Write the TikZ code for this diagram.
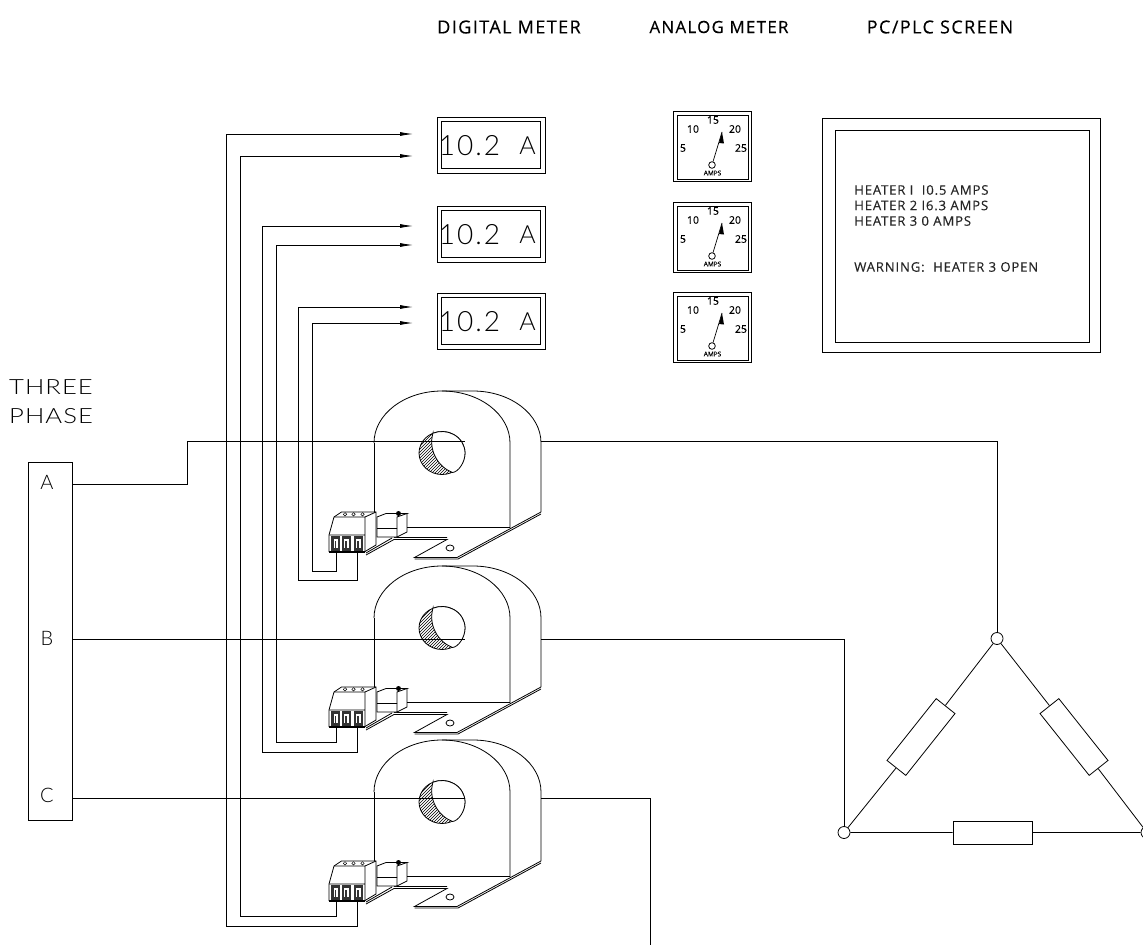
\documentclass[tikz,border=0pt]{standalone}
\usepackage{fontspec}
\setmainfont{Liberation Sans}
\newfontfamily\cad[LetterSpace=7]{Lato Light}
\newfontfamily\cadw[FakeStretch=1.22,LetterSpace=5]{Lato Light}
\newfontfamily\cadb[LetterSpace=8,FakeBold=0.3]{Open Sans}
\newfontfamily\cadc[LetterSpace=6,FakeBold=0.2]{Open Sans}
\newfontfamily\cadd[FakeBold=0.3]{Open Sans}
\usetikzlibrary{arrows.meta,patterns}
\tikzset{
 ln/.style={line width=0.8pt,black},
 wire/.style={line width=0.8pt,black},
 arr/.style={wire,-{Latex[length=13pt,width=4pt]}},
 thin text/.style={font=\cad,inner sep=0pt},
 toplabel/.style={font=\cadb\fontsize{18}{18}\selectfont,inner sep=0pt},
 scrn/.style={font=\cadc\fontsize{13.2}{13.2}\selectfont,inner sep=0pt,anchor=west,text=black!85},
 tick/.style={font=\cadd\fontsize{10.5}{10.5}\selectfont,inner sep=0pt},
 jn/.style={circle,draw,line width=0.8pt,fill=white,minimum size=12pt,inner sep=0pt},
}
% digital meter
\newcommand{\digi}[2]{%
 \node[draw,ln,minimum width=108pt,minimum height=56pt,inner sep=0pt] (#1) at (491,#2) {};
 \node[draw,ln,minimum width=99pt,minimum height=47pt,inner sep=0pt] (#1i) at (491,#2) {};
 \node[thin text,font=\cad\fontsize{28}{28}\selectfont] (#1n) at (469.5,#2+1) {10.2};
 \node[thin text,font=\cad\fontsize{25}{25}\selectfont] (#1u) at (527.5,#2+1) {A};
}
% analog meter
\newcommand{\ana}[2]{%
 \begin{scope}[shift={(0,#2)}]
 \node[draw,ln,minimum width=78pt,minimum height=70pt,inner sep=0pt] (#1) at (712,146) {};
 \node[draw,ln,minimum width=71pt,minimum height=64pt,inner sep=0pt] (#1i) at (712.5,147) {};
 \node[tick] at (713,120) {15};
 \node[tick] at (693,129) {10};
 \node[tick] at (735,129) {20};
 \node[tick] at (683,148) {5};
 \node[tick] at (741,148) {25};
 \node[font=\cadd\fontsize{6.5}{6.5}\selectfont,inner sep=0pt] at (712.5,173) {AMPS};
 \node[circle,draw,line width=0.8pt,minimum size=6.6pt,inner sep=0pt] (#1c) at (712,165) {};
 \coordinate (#1t) at (722,132);
 \draw[line width=0.7pt] (#1c) -- (#1t);
 \fill (#1t) -- (719,143) -- (724,143.5) -- cycle;
 \end{scope}}
% current transformer
\newcommand{\ct}[1]{%
 \begin{scope}[shift={(0,#1)}]
 \draw[ln] (374,443) arc[start angle=180,end angle=270,x radius=68,y radius=52] -- (473,391)
   arc[start angle=270,end angle=360,x radius=68,y radius=52] -- (541,512);
 \draw[ln] (442,391) arc[start angle=270,end angle=360,x radius=68,y radius=52] -- (510,527.5) -- (407,527.5);
 \draw[ln] (374,443) -- (374,512);
 \draw[ln] (541,512) -- (457,557.5) -- (414.5,557.5) -- (447,539.5) -- (394,539.5) -- (366,555);
 \draw[ln] (541,514) -- (458,559) -- (414.5,559) (394,537.5) -- (447,537.5) (366,553) -- (392,538);
 \draw[ln] (450,548) ellipse[x radius=4,y radius=3];
 % hole
 \draw[ln,pattern=north east lines,pattern color=black] (442,453) ellipse[x radius=23,y radius=21.5];
 \fill[white,draw=black,line width=0.8pt] (433,433) .. controls (428,450) and (438,467) .. (452.5,472.5)
   .. controls (458,472) and (465,463) .. (465,453) arc[start angle=0,end angle=-113,x radius=23,y radius=21.5] -- cycle;
 % terminal block
 \draw[ln,fill=white] (329,535) -- (334,517) -- (341.5,512) -- (376,512) -- (376,545) -- (365,551.5) -- (329,551.5) -- cycle;
 \draw[ln] (334,517) -- (365,517) -- (376,512) (365,517) -- (365,551.5) (329,535) -- (365,535);
 \draw[line width=1.5pt] (329,552) -- (365,552);
 \foreach \px in {345,353.5,362.5}{\draw[line width=0.5pt] (\px,514.3) circle (1.7);}
 \foreach \px in {331,341.5,353.5}{
   \fill[black!80] (\px,536) rectangle +(9,15);
   \fill[white] (\px+2.5,539) rectangle +(4.5,9);
   \fill[black!80] (\px+3.7,540.5) rectangle +(1.6,7.5);
 }
 % small connector
 \draw[ln,fill=white] (377,517) -- (386,513.5) -- (407,513.5) -- (397,517) -- (397,537) -- (377,537) -- cycle;
 \draw[ln] (407,513.5) -- (407,532) -- (397,537) (377,528.5) -- (397,528.5);
 \fill (398.5,513.5) circle (2.5);
 \end{scope}}
\begin{document}
\begin{tikzpicture}[x=1pt,y=-1pt]
\useasboundingbox (0,0) rectangle (1143,947);
\fill[white] (0,0) rectangle (1143,947);
\node[toplabel] (l1) at (509,27) {DIGITAL METER};
\node[toplabel,font=\cadb\fontsize{16.8}{16.8}\selectfont] (l2) at (719,27) {ANALOG METER};
\node[toplabel] (l3) at (940,27) {PC/PLC SCREEN};
\digi{d1}{145}
\digi{d2}{234}
\digi{d3}{321}
\ana{a1}{0}
\ana{a2}{91}
\ana{a3}{181}
\node[draw,ln,minimum width=278pt,minimum height=234pt,inner sep=0pt] (s) at (961,235.5) {};
\node[draw,ln,minimum width=254pt,minimum height=212pt,inner sep=0pt] (si) at (962,236) {};
\node[scrn] (t1) at (854,190) {HEATER I\ \ I0.5 AMPS};
\node[scrn] (t2) at (854,205.5) {HEATER 2 I6.3 AMPS};
\node[scrn] (t3) at (854,221) {HEATER 3 0 AMPS};
\node[scrn] (t4) at (854,267) {WARNING:\ \ HEATER 3 OPEN};
\node[thin text,font=\cadw\fontsize{21}{29}\selectfont,align=left,anchor=west] (tp) at (9,401.5) {THREE\\PHASE};
% bar
\node[draw,ln,minimum width=44pt,minimum height=358pt,inner sep=0pt] (bar) at (50,641) {};
\node[thin text,font=\cad\fontsize{20}{20}\selectfont] (pa) at (47,482) {A};
\node[thin text,font=\cad\fontsize{20}{20}\selectfont] (pb) at (47,638) {B};
\node[thin text,font=\cad\fontsize{20}{20}\selectfont] (pc) at (47,795) {C};
% delta
\node[jn] (n1) at (997,638.5) {};
\node[jn] (n2) at (844,832.5) {};
\node[jn] (n3) at (1147,832.5) {};
\node[draw,ln,minimum width=79pt,minimum height=23pt,inner sep=0pt] (r3) at (992.5,832.5) {};
\node[draw,ln,minimum width=79pt,minimum height=24pt,inner sep=0pt,rotate=51.5] (r1) at (921,737) {};
\node[draw,ln,minimum width=79pt,minimum height=24pt,inner sep=0pt,rotate=-51.5] (r2) at (1074,737) {};
\draw[wire] (n1) -- (r1) (r1) -- (n2) (n1) -- (r2) (r2) -- (n3) (n2) -- (r3) (r3) -- (n3);
% current transformers
\ct{0}
\ct{175}
\ct{349}
% phase wires
\coordinate (wa1) at (72,484); \coordinate (wa2) at (187,484); \coordinate (wa3) at (187,441);
\draw[wire] (wa1) -- (wa2) -- (wa3) -- (465,441);
\draw[wire] (541,441) -- (997,441) -- (n1);
\draw[wire] (72,639) -- (465,639);
\draw[wire] (541,639) -- (844,639) -- (n2);
\draw[wire] (72,798) -- (465,798);
\draw[wire] (541,798) -- (650,798) -- (650,945);
% secondaries
\coordinate (k1) at (336,551); \coordinate (k2) at (357.5,551);
\draw[wire] (k1) -- (336,571) -- (312,571) -- (312,323);
\draw[arr] (312,323) -- (413,323);
\draw[wire] (k2) -- (357.5,580) -- (298.5,580) -- (298.5,307);
\draw[arr] (298.5,307) -- (413,307);
\draw[wire] (336,726) -- (336,742) -- (276.5,742) -- (276.5,245);
\draw[arr] (276.5,245) -- (413,245);
\draw[wire] (357.5,726) -- (357.5,752) -- (262,752) -- (262,226);
\draw[arr] (262,226) -- (413,226);
\draw[wire] (336,900) -- (336,916) -- (240,916) -- (240,156);
\draw[arr] (240,156) -- (413,156);
\draw[wire] (357.5,900) -- (357.5,926) -- (226.5,926) -- (226.5,134);
\draw[arr] (226.5,134) -- (413,134);
\end{tikzpicture}
\end{document}
